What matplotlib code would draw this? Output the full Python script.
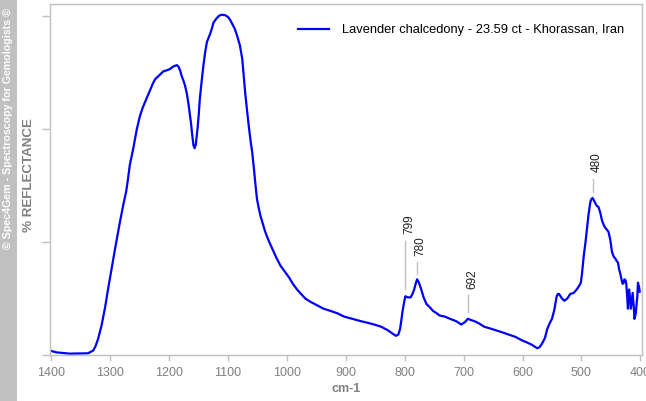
import numpy as np
import matplotlib
matplotlib.use("Agg")
import matplotlib.pyplot as plt
from matplotlib.transforms import ScaledTranslation

plt.rcParams['font.family'] = ['Liberation Sans', 'DejaVu Sans']

# Spectrum (wavenumber cm-1, reflectance in arbitrary units)
wavenumber = [1400, 1391, 1369, 1338, 1329, 1325, 1321, 1315, 1309, 1304, 1298, 1292,
              1284, 1278, 1273, 1270, 1267, 1261, 1255, 1250, 1245, 1241, 1237, 1233,
              1228, 1224, 1218, 1210, 1204, 1199, 1194, 1190, 1187, 1184, 1181, 1179,
              1176, 1173, 1170, 1167, 1163, 1161, 1159, 1157, 1155, 1152, 1150, 1148,
              1145, 1142, 1139, 1136, 1133, 1130, 1127, 1125, 1121, 1116, 1112, 1108,
              1104, 1100, 1096, 1093, 1089, 1085, 1080, 1076, 1074, 1071, 1068, 1065,
              1062, 1059, 1056, 1054, 1051, 1048, 1045, 1041, 1037, 1031, 1025, 1018,
              1011, 1004, 997, 990, 983, 976, 969, 960, 949, 938, 926, 915, 903, 889,
              875, 863, 852, 840, 829, 821, 815, 811, 808, 806, 804, 801, 799, 795,
              790, 787, 784, 781, 779, 776, 772, 768, 763, 757, 752, 746, 741, 732,
              723, 713, 704, 698, 693, 688, 682, 674, 665, 655, 646, 634, 623, 612,
              601, 592, 584, 578, 575, 571, 567, 562, 558, 554, 550, 546, 542, 540,
              538, 533, 529, 524, 519, 513, 508, 504, 501, 499, 496, 493, 490, 488,
              485, 483, 481, 479, 476, 474, 471, 468, 465, 462, 460, 457, 454, 451,
              448, 445, 442, 440, 438, 436, 434, 432, 430, 428, 427, 425, 424, 422,
              421, 420, 419, 417, 416, 414, 413, 411, 410, 408, 407, 405, 404, 402, 401]
reflectance = [0.035, 0.023, 0.012, 0.015, 0.04, 0.08, 0.14, 0.26, 0.42, 0.58, 0.76, 0.94,
               1.17, 1.33, 1.45, 1.56, 1.68, 1.83, 2.0, 2.11, 2.19, 2.24, 2.29, 2.34,
               2.40, 2.44, 2.47, 2.51, 2.52, 2.53, 2.55, 2.56, 2.565, 2.55, 2.51, 2.47,
               2.43, 2.38, 2.31, 2.21, 2.05, 1.95, 1.86, 1.83, 1.86, 2.0, 2.12, 2.27,
               2.42, 2.56, 2.68, 2.77, 2.81, 2.85, 2.90, 2.94, 2.97, 3.0, 3.01, 3.01,
               3.005, 2.99, 2.96, 2.93, 2.89, 2.83, 2.74, 2.62, 2.50, 2.32, 2.17, 2.03,
               1.90, 1.79, 1.64, 1.53, 1.38, 1.30, 1.23, 1.16, 1.09, 1.01, 0.94, 0.86,
               0.79, 0.74, 0.69, 0.63, 0.58, 0.54, 0.50, 0.47, 0.44, 0.41, 0.39, 0.37, 0.34, 0.32,
               0.30, 0.285, 0.27, 0.25, 0.22, 0.19, 0.17, 0.18, 0.23, 0.30, 0.38, 0.47, 0.52, 0.51,
               0.51, 0.54, 0.58, 0.64, 0.67, 0.64, 0.58, 0.51, 0.45, 0.42, 0.39, 0.37, 0.35, 0.34,
               0.32, 0.30, 0.27, 0.29, 0.32, 0.31, 0.30, 0.28, 0.25, 0.235, 0.22, 0.20, 0.18, 0.16,
               0.13, 0.11, 0.09, 0.07, 0.06, 0.07, 0.10, 0.15, 0.23, 0.28, 0.32, 0.40, 0.52, 0.54,
               0.54, 0.50, 0.48, 0.50, 0.54, 0.55, 0.58, 0.61, 0.64, 0.72, 0.88, 1.00, 1.14, 1.24,
               1.35, 1.38, 1.39, 1.37, 1.34, 1.32, 1.31, 1.26, 1.19, 1.15, 1.13, 1.11, 1.09, 1.02,
               0.91, 0.87, 0.85, 0.83, 0.82, 0.76, 0.72, 0.67, 0.63, 0.64, 0.67, 0.66, 0.64, 0.50,
               0.41, 0.52, 0.58, 0.48, 0.41, 0.50, 0.55, 0.42, 0.32, 0.36, 0.41, 0.52, 0.64, 0.60, 0.56]

peak_labels = ["799", "780", "692", "480"]
peak_positions = [799, 780, 692, 480]
peak_line_tops = [1.01, 0.82, 0.53, 1.56]

x_ticks = [1400, 1300, 1200, 1100, 1000, 900, 800, 700, 600, 500, 400]
series_name = "Lavender chalcedony - 23.59 ct - Khorassan, Iran"

W, H = 646, 401
fig = plt.figure(figsize=(W / 100, H / 100), dpi=100)
ax = fig.add_axes([50 / W, (H - 355) / H, (642 - 50) / W, (355 - 4) / H])

grey = '#c0c0c0'
txtgrey = '#808080'

ax.plot(wavenumber, reflectance, color='#0000ff', lw=1.6, label=series_name)

ax.set_xlim(1402.5, 397.1)
ax.set_ylim(0, 351 / 113)
ax.set_xticks(x_ticks)
ax.set_xticklabels([str(t) for t in x_ticks])
ax.set_yticks([0, 1, 2, 3])
ax.set_yticklabels([])
for s in ax.spines.values():
    s.set_color(grey)
    s.set_linewidth(1.0)
ax.tick_params(axis='x', direction='out', length=4, width=1, color=grey,
               labelcolor=txtgrey, labelsize=9, pad=5)
ax.tick_params(axis='y', direction='out', length=6, width=1, color=grey)

# Peak annotations
curve_at = np.interp(peak_positions, wavenumber[::-1], reflectance[::-1])
off = ScaledTranslation(-2.0 / 100, 6.5 / 100, fig.dpi_scale_trans)
for lab, p, top, c in zip(peak_labels, peak_positions, peak_line_tops, curve_at):
    ax.plot([p, p], [c + 0.065, top], color=grey, lw=1)
    ax.text(p, top, lab, rotation=90, ha='left', va='bottom', fontsize=8.5,
            color='#202020', transform=ax.transData + off)

leg = ax.legend(loc='center left', bbox_to_anchor=(298 / W, 1 - 30 / H),
                bbox_transform=fig.transFigure, frameon=False, fontsize=9.25,
                handlelength=2.4, handletextpad=1.0, borderpad=0, borderaxespad=0)

fig.text(346 / W, 1 - 389 / H, "cm-1", ha='center', va='center', fontsize=9,
         fontweight='bold', color=txtgrey)
fig.text(29 / W, 1 - 175 / H, "% REFLECTANCE", ha='center', va='center',
         rotation=90, fontsize=9.6, fontweight='bold', color=txtgrey)

# Left copyright strip
fig.patches.append(plt.Rectangle((0, 0), 17 / W, 1, transform=fig.transFigure,
                                 facecolor='#c0c0c0', edgecolor='none'))
fig.text(8.5 / W, 1 - 8 / H, "© Spec4Gem - Spectroscopy for Gemologists ©",
         ha='center', va='top', rotation=90, fontsize=7.7, fontweight='bold',
         color='white')

fig.savefig("out.png", dpi=100)
